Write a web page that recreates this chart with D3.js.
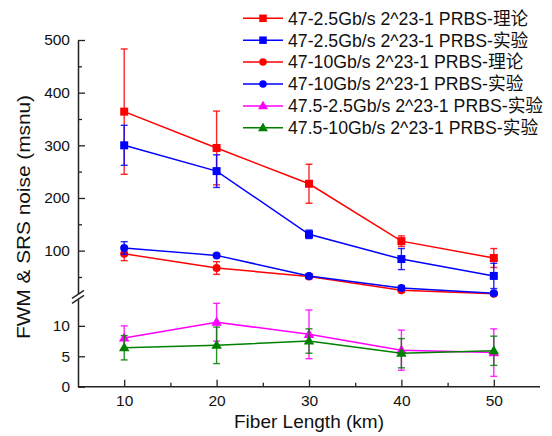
<!DOCTYPE html>
<html>
<head>
<meta charset="utf-8">
<script src="https://cdn.jsdelivr.net/npm/d3@7/dist/d3.min.js"></script>
<style>
  html, body { margin: 0; padding: 0; background: #fff; }
  svg { display: block; font-family: "Liberation Sans", Arial, "Noto Sans CJK SC", sans-serif; }
</style>
</head>
<body>
<svg id="chart" width="552" height="436"></svg>
<script>
// ---------- data ----------
const lengths = [10, 20, 30, 40, 50];
const seriesNames = [
  "47-2.5Gb/s 2^23-1 PRBS-理论",
  "47-2.5Gb/s 2^23-1 PRBS-实验",
  "47-10Gb/s 2^23-1 PRBS-理论",
  "47-10Gb/s 2^23-1 PRBS-实验",
  "47.5-2.5Gb/s 2^23-1 PRBS-实验",
  "47.5-10Gb/s 2^23-1 PRBS-实验"
];
const seriesColors = ["#ff0000", "#0000ff", "#ff0000", "#0000ff", "#ff00ff", "#008000"];
const seriesShapes = ["square", "square", "circle", "circle", "triangle", "triangle"];

const theory25 = [364, 295, 227, 118, 86];
const theory25Err = [119, 70, 37, 10, 18];
const exp25 = [300, 251, 131, 84, 52];
const exp25Err = [38, 31, 8, 20, 24];
const theory10 = [94, 67, 51, 25, 18];
const theory10Err = [13, 12, 4, 3, 2];
const exp10 = [105, 91, 52, 29, 19];
const exp10Err = [12, 3, 4, 4, 3];
const exp475_25 = [8.0, 10.6, 8.6, 6.0, 5.6];
const exp475_25Err = [2.0, 3.1, 4.0, 3.3, 3.9];
const exp475_10 = [6.4, 6.8, 7.5, 5.5, 5.9];
const exp475_10Err = [2.0, 3.0, 2.0, 2.4, 2.4];

const seriesValues = [theory25, exp25, theory10, exp10, exp475_25, exp475_10];
const seriesErrors = [theory25Err, exp25Err, theory10Err, exp10Err, exp475_25Err, exp475_10Err];

const xTicks = [10, 20, 30, 40, 50];
const xMinorTicks = [15, 25, 35, 45];
const yTicks = [0, 5, 10, 100, 200, 300, 400, 500];
const yMinorTicks = [50, 150, 250, 350, 450];
const yBreak = 15;

const xTitle = "Fiber Length (km)";
const yTitle = "FWM & SRS noise (msnu)";

// ---------- layout ----------
const svg = d3.select("#chart");
const pLeft = 78, pRight = 540, pTop = 40, pBottom = 386.7, breakY = 295.4;

const x = d3.scaleLinear().domain([5, 55]).range([pLeft, pRight]);
const y = d3.scaleLinear().domain([0, yBreak, 500]).range([pBottom, breakY, pTop]);

const tickFont = "15.5px";

// x axis
const xAxis = svg.append("g").attr("transform", `translate(0,${pBottom})`)
  .call(d3.axisBottom(x).tickValues(xTicks).tickSizeInner(-7).tickSizeOuter(0).tickPadding(8).tickFormat(d3.format("d")));
xAxis.append("g").call(d3.axisBottom(x).tickValues(xMinorTicks).tickSizeInner(-4).tickSizeOuter(0).tickFormat(""));
xAxis.selectAll(".domain").remove();

// y axis
const yAxis = svg.append("g").attr("transform", `translate(${pLeft},0)`)
  .call(d3.axisLeft(y).tickValues(yTicks).tickSizeInner(-7).tickSizeOuter(0).tickPadding(8).tickFormat(d3.format("d")));
const yMinor = yAxis.append("g").call(d3.axisLeft(y).tickValues(yMinorTicks).tickSizeInner(-4).tickSizeOuter(0).tickFormat(""));
yMinor.select(".domain").remove();

// x domain line full width
svg.append("line").attr("x1", pLeft).attr("x2", pRight).attr("y1", pBottom).attr("y2", pBottom)
  .attr("stroke", "#222").attr("stroke-width", 1.5);

svg.selectAll(".domain").attr("stroke", "#222").attr("stroke-width", 1.5);
svg.selectAll(".tick line").attr("stroke", "#222").attr("stroke-width", 1.3);
svg.selectAll(".tick text").attr("font-size", tickFont).attr("fill", "#111")
  .attr("font-family", "'Liberation Sans', Arial, sans-serif");

// break on y axis
const by = breakY + 1.5;
svg.append("rect").attr("x", pLeft - 3).attr("y", by - 2.5).attr("width", 6).attr("height", 5).attr("fill", "#fff");
[-2.5, 2.5].forEach(o => {
  svg.append("line").attr("x1", pLeft - 6).attr("y1", by + o + 4).attr("x2", pLeft + 6).attr("y2", by + o - 4)
    .attr("stroke", "#222").attr("stroke-width", 1.3);
});

// titles
svg.append("text").attr("x", (pLeft + pRight) / 2).attr("y", 427.5).attr("text-anchor", "middle")
  .attr("font-size", "19px").attr("fill", "#111").text(xTitle);
svg.append("text").attr("transform", `translate(29.5,217) rotate(-90)`).attr("text-anchor", "middle")
  .attr("font-size", "19px").attr("fill", "#111")
  .attr("textLength", 244).attr("lengthAdjust", "spacingAndGlyphs").text(yTitle);

// markers
function drawMarker(g, shape, cx, cy, color, s) {
  if (shape === "square") {
    g.append("rect").attr("x", cx - s / 2).attr("y", cy - s / 2).attr("width", s).attr("height", s).attr("fill", color);
  } else if (shape === "circle") {
    g.append("circle").attr("cx", cx).attr("cy", cy).attr("r", s / 2).attr("fill", color);
  } else {
    g.append("path").attr("d", d3.symbol(d3.symbolTriangle, s * s * 0.75)()).attr("transform", `translate(${cx},${cy + 0.5})`).attr("fill", color);
  }
}

// series
const plot = svg.append("g");
seriesValues.forEach((vals, si) => {
  const color = seriesColors[si];
  const g = plot.append("g");
  const errs = seriesErrors[si];
  vals.forEach((v, i) => {
    const cx = x(lengths[i]);
    const y1 = y(v + errs[i]), y2 = y(Math.max(0, v - errs[i]));
    g.append("line").attr("x1", cx).attr("x2", cx).attr("y1", y1).attr("y2", y2)
      .attr("stroke", color).attr("stroke-width", 1.4).attr("stroke-opacity", 0.85);
    [y1, y2].forEach(yy => g.append("line").attr("x1", cx - 3.5).attr("x2", cx + 3.5).attr("y1", yy).attr("y2", yy)
      .attr("stroke", color).attr("stroke-width", 1.4).attr("stroke-opacity", 0.85));
  });
  g.append("path").datum(vals)
    .attr("d", d3.line().x((d, i) => x(lengths[i])).y(d => y(d)))
    .attr("fill", "none").attr("stroke", color).attr("stroke-width", 1.5);
  vals.forEach((v, i) => drawMarker(g, seriesShapes[si], x(lengths[i]), y(v), color, 8));
});

// legend
const legend = svg.append("g");
seriesNames.forEach((name, i) => {
  const ly = 18.3 + i * 21.9;
  legend.append("line").attr("x1", 243).attr("x2", 283).attr("y1", ly).attr("y2", ly)
    .attr("stroke", seriesColors[i]).attr("stroke-width", 1.5);
  drawMarker(legend, seriesShapes[i], 263, ly, seriesColors[i], 7.5);
  legend.append("text").attr("x", 288).attr("y", ly).attr("dy", "0.36em")
    .attr("font-size", "17.7px").attr("fill", "#111").text(name);
});
</script>
</body>
</html>
